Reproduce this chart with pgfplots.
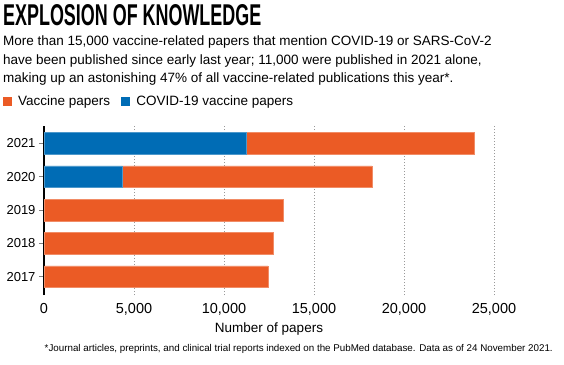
\documentclass[border=0pt]{standalone}
\usepackage{pgfplots}
\pgfplotsset{compat=1.18}
\usepackage{fontspec}
\setmainfont{Liberation Sans}
\definecolor{vorange}{RGB}{235,91,37}
\definecolor{vblue}{RGB}{0,108,181}
\pgfplotsset{sqlegend/.style={legend image code/.code={\fill[##1] (0pt,-4.5pt) rectangle (9pt,4.5pt); \path (13pt,0pt);}}}
\begin{document}
\begin{tikzpicture}
\useasboundingbox (0,0) rectangle (564pt,-364pt);
\node[anchor=south west, inner sep=0] at (3pt,-26pt) {\resizebox{258pt}{21pt}{\bfseries EXPLOSION OF KNOWLEDGE}};
\begin{scope}[every node/.style={anchor=base west, inner sep=0, font=\fontsize{13.5}{16}\selectfont}]
\node at (3pt,-45.5pt) {More than 15,000 vaccine-related papers that mention COVID-19 or SARS-CoV-2};
\node at (3pt,-64pt) {have been published since early last year; 11,000 were published in 2021 alone,};
\node at (3pt,-82.3pt) {making up an astonishing 47\% of all vaccine-related publications this year*.};
\end{scope}
\begin{axis}[
  xbar stacked, bar width=21.7pt,
  scale only axis, width=450pt, height=169.3pt,
  at={(44pt,-295pt)}, anchor=south west,
  xmin=0, xmax=25000, ymin=-0.55, ymax=4.53,
  axis y line*=left, axis x line*=bottom,
  y axis line style={line width=2pt, black, -},
  x axis line style={draw=none},
  ytick={0,1,2,3,4}, yticklabels={2017,2018,2019,2020,2021},
  xtick={0,5000,10000,15000,20000,25000},
  xmajorgrids, grid style={dash pattern=on 1pt off 2pt, gray!80, line width=0.8pt},
  ytick style={draw=gray, line width=0.6pt}, major tick length=5pt, tick align=outside,
  xtick style={draw=none},
  y tick label style={font=\fontsize{13}{15}\selectfont},
  x tick label style={font=\fontsize{14.5}{16}\selectfont, /pgf/number format/.cd, 1000 sep={,}, assume math mode=true},
  scaled x ticks=false,
  xlabel={Number of papers},
  xlabel style={font=\fontsize{13.5}{16}\selectfont},
  legend columns=2,
  legend cell align=left,
  legend style={draw=none, fill=none, at={(axis description cs:-0.0911,1.1418)}, anchor=west,
    inner xsep=0pt, font=\fontsize{13.5}{16}\selectfont,
    /tikz/every even column/.append style={column sep=9pt}},
]
\addlegendimage{sqlegend, fill=vorange, draw=none}
\addlegendentry{Vaccine papers}
\addlegendimage{sqlegend, fill=vblue, draw=none}
\addlegendentry{COVID-19 vaccine papers}
\addplot[fill=vblue, draw=vblue!70!white, line width=0.5pt] coordinates {(0,0) (0,1) (0,2) (4330,3) (11260,4)};
\addplot[fill=vorange, draw=vorange!70!white, line width=0.5pt] coordinates {(12440,0) (12720,1) (13300,2) (13890,3) (12630,4)};
\end{axis}
\node[anchor=base east, inner sep=0, font=\fontsize{9.8}{11}\selectfont] at (553pt,-351.5pt) {*Journal articles, preprints, and clinical trial reports indexed on the PubMed database. Data as of 24 November 2021.};
\end{tikzpicture}
\end{document}
